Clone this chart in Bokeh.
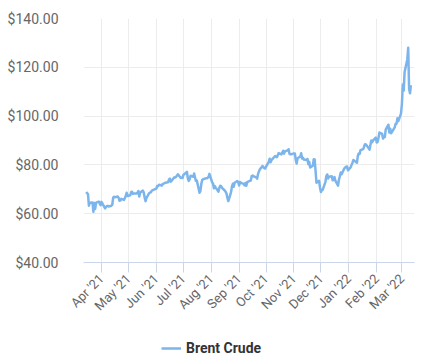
import math
import pandas as pd
from bokeh.plotting import figure
from bokeh.layouts import column
from bokeh.models import (Range1d, DatetimeTickFormatter, MonthsTicker, FixedTicker,
                          NumeralTickFormatter, Legend, LegendItem, ColumnDataSource)
from bokeh.embed import file_html
from bokeh.resources import INLINE

series_name = "Brent Crude"
y_ticks = [40, 60, 80, 100, 120, 140]

dates = [
    "2021-03-15", "2021-03-16", "2021-03-17", "2021-03-18", "2021-03-19", "2021-03-22", "2021-03-23",
    "2021-03-24", "2021-03-25", "2021-03-26", "2021-03-29", "2021-03-30", "2021-03-31", "2021-04-01",
    "2021-04-05", "2021-04-06", "2021-04-07", "2021-04-08", "2021-04-09", "2021-04-12", "2021-04-13",
    "2021-04-14", "2021-04-15", "2021-04-16", "2021-04-19", "2021-04-20", "2021-04-21", "2021-04-22",
    "2021-04-23", "2021-04-26", "2021-04-27", "2021-04-28", "2021-04-29", "2021-04-30", "2021-05-03",
    "2021-05-04", "2021-05-05", "2021-05-06", "2021-05-07", "2021-05-10", "2021-05-11", "2021-05-12",
    "2021-05-13", "2021-05-14", "2021-05-17", "2021-05-18", "2021-05-19", "2021-05-20", "2021-05-21",
    "2021-05-24", "2021-05-25", "2021-05-26", "2021-05-27", "2021-05-28", "2021-06-01", "2021-06-02",
    "2021-06-03", "2021-06-04", "2021-06-07", "2021-06-08", "2021-06-09", "2021-06-10", "2021-06-11",
    "2021-06-14", "2021-06-15", "2021-06-16", "2021-06-17", "2021-06-18", "2021-06-21", "2021-06-22",
    "2021-06-23", "2021-06-24", "2021-06-25", "2021-06-28", "2021-06-29", "2021-06-30", "2021-07-01",
    "2021-07-02", "2021-07-05", "2021-07-06", "2021-07-07", "2021-07-08", "2021-07-09", "2021-07-12",
    "2021-07-13", "2021-07-14", "2021-07-15", "2021-07-16", "2021-07-19", "2021-07-20", "2021-07-21",
    "2021-07-22", "2021-07-23", "2021-07-26", "2021-07-27", "2021-07-28", "2021-07-29", "2021-07-30",
    "2021-08-02", "2021-08-03", "2021-08-04", "2021-08-05", "2021-08-06", "2021-08-09", "2021-08-10",
    "2021-08-11", "2021-08-12", "2021-08-13", "2021-08-16", "2021-08-17", "2021-08-18", "2021-08-19",
    "2021-08-20", "2021-08-23", "2021-08-24", "2021-08-25", "2021-08-26", "2021-08-27", "2021-08-30",
    "2021-08-31", "2021-09-01", "2021-09-02", "2021-09-03", "2021-09-06", "2021-09-07", "2021-09-08",
    "2021-09-09", "2021-09-10", "2021-09-13", "2021-09-14", "2021-09-15", "2021-09-16", "2021-09-17",
    "2021-09-20", "2021-09-21", "2021-09-22", "2021-09-23", "2021-09-24", "2021-09-27", "2021-09-28",
    "2021-09-29", "2021-09-30", "2021-10-01", "2021-10-04", "2021-10-05", "2021-10-06", "2021-10-07",
    "2021-10-08", "2021-10-11", "2021-10-12", "2021-10-13", "2021-10-14", "2021-10-15", "2021-10-18",
    "2021-10-19", "2021-10-20", "2021-10-21", "2021-10-22", "2021-10-25", "2021-10-26", "2021-10-27",
    "2021-10-28", "2021-10-29", "2021-11-01", "2021-11-02", "2021-11-03", "2021-11-04", "2021-11-05",
    "2021-11-08", "2021-11-09", "2021-11-10", "2021-11-11", "2021-11-12", "2021-11-15", "2021-11-16",
    "2021-11-17", "2021-11-18", "2021-11-19", "2021-11-22", "2021-11-23", "2021-11-24", "2021-11-26",
    "2021-11-29", "2021-11-30", "2021-12-01", "2021-12-02", "2021-12-03", "2021-12-06", "2021-12-07",
    "2021-12-08", "2021-12-09", "2021-12-10", "2021-12-13", "2021-12-14", "2021-12-15", "2021-12-16",
    "2021-12-17", "2021-12-20", "2021-12-21", "2021-12-22", "2021-12-23", "2021-12-24", "2021-12-27",
    "2021-12-28", "2021-12-29", "2021-12-30", "2021-12-31", "2022-01-03", "2022-01-04", "2022-01-05",
    "2022-01-06", "2022-01-07", "2022-01-10", "2022-01-11", "2022-01-12", "2022-01-13", "2022-01-14",
    "2022-01-17", "2022-01-18", "2022-01-19", "2022-01-20", "2022-01-21", "2022-01-24", "2022-01-25",
    "2022-01-26", "2022-01-27", "2022-01-28", "2022-01-31", "2022-02-01", "2022-02-02", "2022-02-03",
    "2022-02-04", "2022-02-07", "2022-02-08", "2022-02-09", "2022-02-10", "2022-02-11", "2022-02-14",
    "2022-02-15", "2022-02-16", "2022-02-17", "2022-02-18", "2022-02-21", "2022-02-22", "2022-02-23",
    "2022-02-24", "2022-02-25", "2022-02-28", "2022-03-01", "2022-03-02", "2022-03-03", "2022-03-04",
    "2022-03-07", "2022-03-08", "2022-03-09", "2022-03-10", "2022-03-11",
]

prices = [
    68.88, 68.39, 68.00, 63.28, 64.53, 64.62, 60.79,
    64.41, 61.95, 64.57, 64.98, 64.14, 63.54, 64.86,
    62.15, 62.74, 63.16, 63.20, 62.95, 63.28, 63.67,
    66.58, 66.94, 66.77, 67.05, 66.57, 65.32, 65.40,
    66.11, 65.65, 66.42, 67.27, 68.56, 67.25, 67.56,
    68.88, 68.96, 68.09, 68.28, 68.32, 68.55, 69.32,
    67.05, 68.71, 69.46, 68.71, 66.66, 65.11, 66.44,
    68.46, 68.65, 68.87, 69.46, 69.63, 70.25, 71.35,
    71.31, 71.89, 71.49, 72.22, 72.22, 72.52, 72.69,
    72.86, 73.99, 74.39, 73.08, 73.51, 74.90, 74.81,
    75.19, 75.56, 76.18, 74.68, 74.76, 74.62, 75.84,
    76.17, 77.16, 74.53, 73.43, 74.12, 75.55, 75.16,
    76.49, 74.76, 73.47, 73.59, 68.62, 69.35, 72.23,
    73.79, 74.10, 74.50, 74.48, 74.74, 75.05, 76.33,
    72.89, 72.41, 70.38, 71.29, 70.70, 69.04, 70.63,
    71.44, 71.31, 70.59, 69.51, 69.03, 68.23, 66.45,
    65.18, 68.75, 71.05, 72.25, 71.07, 72.70, 73.41,
    72.99, 71.59, 73.03, 72.61, 72.22, 71.69, 72.60,
    71.45, 72.92, 73.51, 73.60, 75.46, 75.67, 75.34,
    74.92, 74.36, 76.19, 77.25, 78.09, 79.53, 79.09,
    78.64, 78.52, 79.28, 81.26, 82.56, 81.08, 81.95,
    82.39, 83.65, 83.42, 83.18, 84.00, 84.86, 84.33,
    85.08, 85.82, 84.61, 85.53, 85.99, 86.40, 84.58,
    84.32, 84.38, 84.71, 84.72, 81.99, 80.54, 82.74,
    83.43, 84.78, 82.64, 82.87, 82.17, 82.05, 82.43,
    80.28, 81.24, 78.89, 79.70, 82.31, 82.25, 72.72,
    73.44, 70.57, 68.87, 69.67, 69.88, 73.08, 75.44,
    76.09, 74.42, 75.15, 75.39, 73.70, 73.88, 75.02,
    73.52, 71.52, 73.98, 75.29, 76.85, 76.14, 78.60,
    78.94, 79.23, 79.32, 77.78, 78.98, 80.00, 80.80,
    81.99, 81.75, 80.87, 83.72, 84.67, 84.47, 86.06,
    86.48, 87.51, 88.44, 88.38, 87.89, 86.27, 88.20,
    89.96, 89.34, 90.03, 91.21, 89.16, 89.47, 91.11,
    93.27, 92.69, 90.78, 91.55, 91.41, 94.44, 96.48,
    93.28, 94.81, 92.97, 93.54, 95.39, 96.84, 96.84,
    99.08, 97.93, 100.99, 104.97, 112.93, 110.46, 118.11,
    123.21, 127.98, 111.14, 109.33, 112.67,
]

LINE_COLOR = "#7cb5ec"
LINE_WIDTH = 2.5
FONT = "Roboto"

src = ColumnDataSource(data=dict(date=pd.to_datetime(dates), price=prices))

p = figure(width=433, height=323, x_axis_type="datetime",
           x_range=Range1d(pd.Timestamp("2021-03-12"), pd.Timestamp("2022-03-15")),
           y_range=Range1d(40, 140),
           output_backend="svg", toolbar_location=None,
           min_border_left=83, min_border_right=19, min_border_top=18, min_border_bottom=61)
p.outline_line_color = None

r = p.line("date", "price", source=src, line_color=LINE_COLOR, line_width=LINE_WIDTH,
           line_join="round")

# x axis
xa = p.xaxis[0]
xa.ticker = MonthsTicker(months=list(range(12)))
xa.formatter = DatetimeTickFormatter(months="%b '%y", days="%b '%y")
xa.major_label_orientation = math.pi / 4
xa.axis_line_color = "#ccd6eb"
xa.major_tick_line_color = "#ccd6eb"
xa.major_tick_out = 10
xa.major_tick_in = 0
xa.minor_tick_line_color = None
xa.major_label_text_font = FONT
xa.major_label_text_font_size = "13px"
xa.major_label_text_color = "#666666"
xa.major_label_standoff = 4

# y axis
ya = p.yaxis[0]
ya.ticker = FixedTicker(ticks=y_ticks)
ya.formatter = NumeralTickFormatter(format="$0.00")
ya.axis_line_color = None
ya.major_tick_line_color = None
ya.minor_tick_line_color = None
ya.major_label_text_font = FONT
ya.major_label_text_font_size = "14px"
ya.major_label_text_color = "#666666"
ya.major_label_standoff = 19

p.xgrid.grid_line_color = "#ececec"
p.ygrid.grid_line_color = "#ececec"
p.xgrid.ticker = xa.ticker
p.ygrid.ticker = ya.ticker

# legend strip below the chart (its frame is aligned with the chart's frame)
lg = figure(width=433, height=40, x_range=Range1d(0, 1), y_range=Range1d(0, 1),
            output_backend="svg", toolbar_location=None,
            min_border_left=0, min_border_right=0, min_border_top=0, min_border_bottom=0)
lg.outline_line_color = None
lg.axis.visible = False
lg.grid.visible = False
swatch = lg.line(x=[float("nan")], y=[float("nan")], line_color=LINE_COLOR, line_width=LINE_WIDTH)
legend = Legend(items=[LegendItem(label=series_name, renderers=[swatch])],
                location=(74, 1), orientation="horizontal",
                border_line_alpha=0, background_fill_alpha=0,
                label_text_font=FONT, label_text_font_style="bold",
                label_text_font_size="14px", label_text_color="#333333",
                glyph_width=20, margin=0, padding=4)
lg.add_layout(legend, "center")

layout = column(p, lg, spacing=0)
open("out.html", "w").write(file_html(layout, INLINE))
